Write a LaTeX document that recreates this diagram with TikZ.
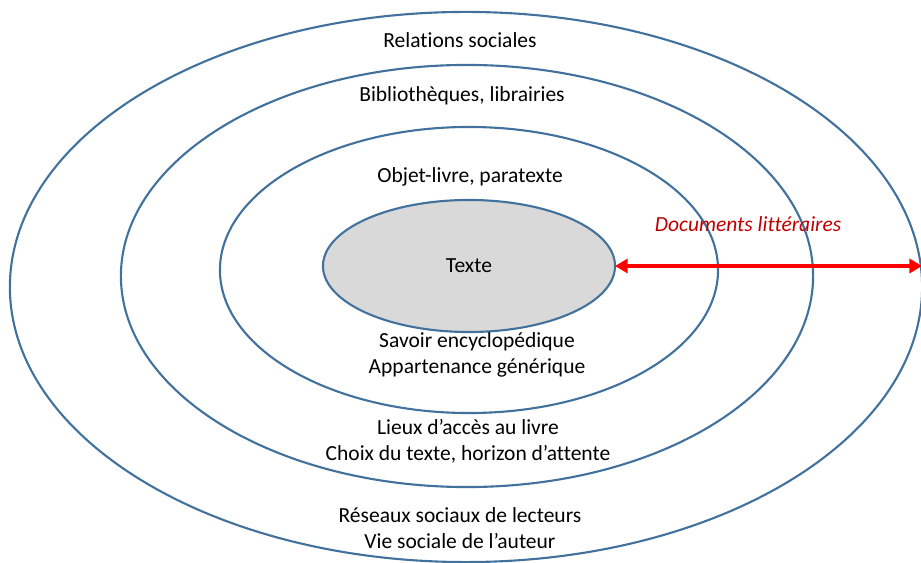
\documentclass[tikz,border=0pt]{standalone}
\usepackage{fontspec}
\setmainfont{Carlito}[Ligatures={NoCommon}]
\usepackage{tikz}
\usetikzlibrary{shapes.geometric,arrows.meta}

\definecolor{anneau}{RGB}{65,113,156}
\definecolor{coeur}{RGB}{217,217,217}
\definecolor{fleche}{RGB}{255,0,0}
\definecolor{titre}{RGB}{192,0,0}

\tikzset{
    ring/.style={ellipse, draw=anneau, line width=1.5pt, inner sep=0pt, outer sep=0pt},
    label/.style={align=center, font=\fontsize{15.3}{18.5}\selectfont},
}

\begin{document}
\begin{tikzpicture}[x=0.025cm,y=-0.025cm]

    \useasboundingbox (0,0) rectangle (921,563);

    % rings, from outside in
    \node[ring, minimum width=22.8cm, minimum height=13.75cm] (social) at (466,287) {};
    \node[ring, minimum width=17.3cm, minimum height=10.55cm] (acces) at (467,276) {};
    \node[ring, minimum width=12.45cm, minimum height=7.15cm] (objet) at (469,270) {};
    \node[ring, fill=coeur, minimum width=7.3cm, minimum height=3.3cm] (texte) at (469,266) {};

    \node[label] at (texte.center) {Texte};

    \node[label] (relations) at (460,40) {Relations sociales};
    \node[label] (biblio) at (462,96) {Bibliothèques, librairies};
    \node[label] (livre) at (470,177) {Objet-livre, paratexte};
    \node[label] (savoir) at (477,355) {Savoir encyclopédique\\Appartenance générique};
    \node[label] (lieux) at (468,441) {Lieux d’accès au livre\\Choix du texte, horizon d’attente};
    \node[label] (reseaux) at (460,528) {Réseaux sociaux de lecteurs\\Vie sociale de l’auteur};

    % documents
    \node[label, text=titre, font=\fontsize{15.3}{18.5}\selectfont\itshape] (docs) at (748,224) {Documents littéraires};
    \draw[fleche, line width=2.2pt, {Triangle[length=9pt,width=10pt]}-{Triangle[length=9pt,width=10pt]}]
        (texte.east) -- (texte.east -| social.east);

\end{tikzpicture}
\end{document}
